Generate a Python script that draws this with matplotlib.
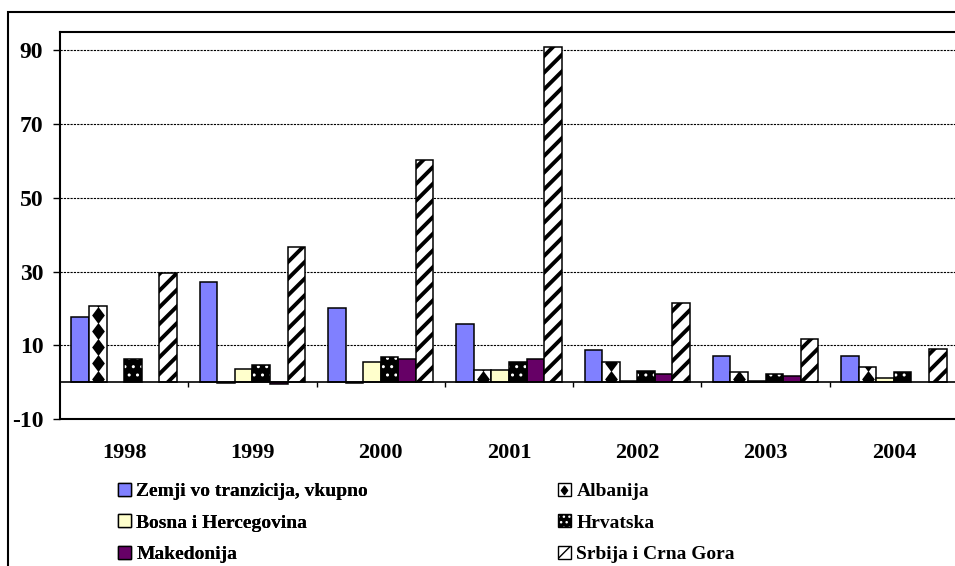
import numpy as np
import matplotlib
matplotlib.use("Agg")
import matplotlib.pyplot as plt
from matplotlib.patches import Patch, Rectangle
from matplotlib.lines import Line2D
from matplotlib.path import Path

plt.rcParams['font.family'] = ['Liberation Serif', 'DejaVu Serif']
plt.rcParams['font.weight'] = 'bold'
plt.rcParams['axes.unicode_minus'] = False

years = ['1998', '1999', '2000', '2001', '2002', '2003', '2004']
zemji = [17.6, 27.2, 20.2, 15.8, 8.8, 7.1, 7.1]
albanija = [20.6, -0.3, -0.3, 3.3, 5.5, 2.8, 4.0]
bosna = [np.nan, 3.5, 5.5, 3.3, 0.3, 0.3, 1.0]
hrvatska = [6.2, 4.6, 6.7, 5.6, 2.9, 2.3, 2.8]
makedonija = [np.nan, -0.5, 6.2, 6.2, 2.3, 1.7, np.nan]
srbija = [29.5, 36.8, 60.3, 91.0, 21.4, 11.6, 8.9]

labels = ['Zemji vo tranzicija, vkupno', 'Albanija', 'Bosna i Hercegovina',
          'Hrvatska', 'Makedonija', 'Srbija i Crna Gora']

fig = plt.figure(figsize=(9.55, 5.66), dpi=100)
W, H = 955, 566
ax = fig.add_axes([60 / W, 1 - 419 / H, (958 - 60) / W, (419 - 32) / H])

x = np.arange(len(years))
bw = 1 / 7.31
offs = (np.arange(6) - 2.5) * bw
edge = dict(edgecolor='black', linewidth=1.1)

ax.bar(x + offs[0], zemji, bw, facecolor='#8080FF', **edge, zorder=3)

# Albanija: white bars with a column of black diamonds
alb = ax.bar(x + offs[1], albanija, bw, facecolor='white', **edge, zorder=3)
diamond = Path([(0, 1), (0.75, 0), (0, -1), (-0.75, 0), (0, 1)],
               [Path.MOVETO, Path.LINETO, Path.LINETO, Path.LINETO, Path.CLOSEPOLY])
for xi, h, rect in zip(x + offs[1], albanija, alb.patches):
    if h <= 0:
        continue
    ys = np.arange(0.8, h + 4.35, 4.35)
    pts = ax.scatter(np.full(len(ys), xi), ys, marker=diamond, s=150,
                     color='black', linewidths=0, zorder=3.5)
    pts.set_clip_path(rect)

ax.bar(x + offs[2], bosna, bw, facecolor='#FFFFCC', **edge, zorder=3)

# Hrvatska: black with white dots
ax.bar(x + offs[3], hrvatska, bw, facecolor='black', edgecolor='white',
       hatch='..', linewidth=0, zorder=3)
ax.bar(x + offs[3], hrvatska, bw, fill=False, **edge, zorder=3.6)

ax.bar(x + offs[4], makedonija, bw, facecolor='#660066', **edge, zorder=3)

srb = ax.bar(x + offs[5], srbija, bw, facecolor='white', hatch='//', **edge, zorder=3)
for p in srb.patches:
    if hasattr(p, 'set_hatch_linewidth'):
        p.set_hatch_linewidth(2.8)

ax.set_xlim(-0.5, 6.5)
ax.set_ylim(-10, 95)
ax.set_yticks([-10, 10, 30, 50, 70, 90])
ax.set_xticks(x)
ax.set_xticklabels(years)
ax.tick_params(axis='x', length=0, pad=17, labelsize=16)
ax.tick_params(axis='y', length=5, width=1, pad=7, labelsize=17)
for s in ['left', 'top', 'bottom']:
    ax.spines[s].set_linewidth(1.5)
ax.spines['right'].set_visible(False)

for g in [10, 30, 50, 70, 90]:
    ax.axhline(g, color='black', linestyle=(0, (2, 1)), linewidth=0.8, zorder=1)
ax.axhline(0, color='black', linewidth=1.2, zorder=4)
ax.vlines(x[:-1] + 0.5, -1.4, 0, color='black', linewidth=1.0, zorder=4)

# outer chart frame
fig.patches.append(Rectangle((8 / W, -0.2), 1.2, 1.2 - 12 / H,
                             transform=fig.transFigure, fill=False,
                             edgecolor='black', linewidth=1.5))

h_zemji = Patch(facecolor='#8080FF', edgecolor='black')
h_alb = (Patch(facecolor='white', edgecolor='black'),
         Line2D([], [], marker=diamond, color='black', markersize=6, linestyle='none'))
h_bosna = Patch(facecolor='#FFFFCC', edgecolor='black')
h_hrv = (Patch(facecolor='black', edgecolor='white', hatch='...', linewidth=0),
         Patch(fill=False, edgecolor='black'))
h_mak = Patch(facecolor='#660066', edgecolor='black')
h_srb = Patch(facecolor='white', edgecolor='black', hatch='//')

leg_kw = dict(frameon=False, fontsize=14, handlelength=0.65, handleheight=0.65,
              handletextpad=0.3, labelspacing=0.72, borderaxespad=0, borderpad=0)
l1 = fig.legend([h_zemji, h_bosna, h_mak], [labels[0], labels[2], labels[4]],
                loc='upper left', bbox_to_anchor=(118 / W, 1 - 483 / H), **leg_kw)
fig.add_artist(l1)
fig.legend([h_alb, h_hrv, h_srb], [labels[1], labels[3], labels[5]],
           loc='upper left', bbox_to_anchor=(558 / W, 1 - 483 / H), **leg_kw)

fig.savefig('out.png', dpi=100)
